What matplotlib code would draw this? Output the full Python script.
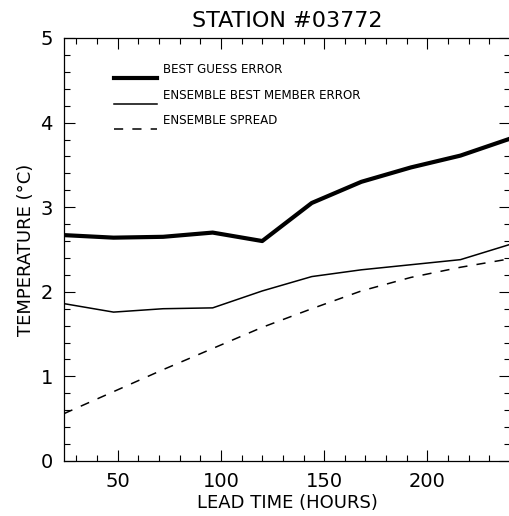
import matplotlib.pyplot as plt
from matplotlib.ticker import MultipleLocator

# lead times and error statistics for the station
lead_hours = [24, 48, 72, 96, 120, 144, 168, 192, 216, 240]
best_guess_err = [2.67, 2.64, 2.65, 2.70, 2.60, 3.05, 3.30, 3.47, 3.61, 3.81]
best_member_err = [1.86, 1.76, 1.80, 1.81, 2.01, 2.18, 2.26, 2.32, 2.38, 2.56]
ens_spread = [0.56, 0.82, 1.08, 1.33, 1.58, 1.80, 2.01, 2.17, 2.29, 2.39]

labels = ['BEST GUESS ERROR', 'ENSEMBLE BEST MEMBER ERROR', 'ENSEMBLE SPREAD']

fig = plt.figure(figsize=(5.09, 5.16), dpi=100)
ax = fig.add_axes([64 / 509, 55 / 516, 446 / 509, 423 / 516])

ax.plot(lead_hours, best_guess_err, color='black', lw=3.0)
ax.plot(lead_hours, best_member_err, color='black', lw=1.1)
ax.plot(lead_hours, ens_spread, color='black', lw=1.1, dashes=(6, 6))

ax.set_xlim(24, 240)
ax.set_ylim(0, 5)
ax.xaxis.set_major_locator(MultipleLocator(50))
ax.xaxis.set_minor_locator(MultipleLocator(10))
ax.yaxis.set_major_locator(MultipleLocator(1))
ax.yaxis.set_minor_locator(MultipleLocator(0.2))
ax.tick_params(which='both', direction='in', top=True, right=True,
               labelsize=14, width=0.8, color='black')
ax.tick_params(which='major', length=8, pad=8)
ax.tick_params(which='minor', length=4)
for s in ax.spines.values():
    s.set_linewidth(0.9)

ax.set_title('STATION #03772', fontsize=16, pad=8)
ax.set_xlabel('LEAD TIME (HOURS)', fontsize=13, labelpad=2)
ax.set_ylabel('TEMPERATURE (°C)', fontsize=13, labelpad=4)

# hand-drawn key in the upper left
key_styles = [dict(lw=3.0), dict(lw=1.1), dict(lw=1.1, dashes=(6, 6))]
key_y = [0.905, 0.844, 0.785]
for lab, st, yy in zip(labels, key_styles, key_y):
    ax.plot([0.112, 0.209], [yy, yy], color='black', transform=ax.transAxes, **st)
    ax.text(0.222, yy + 0.004, lab, transform=ax.transAxes, fontsize=8.6,
            va='bottom', ha='left')

fig.savefig('out.png', dpi=100)
